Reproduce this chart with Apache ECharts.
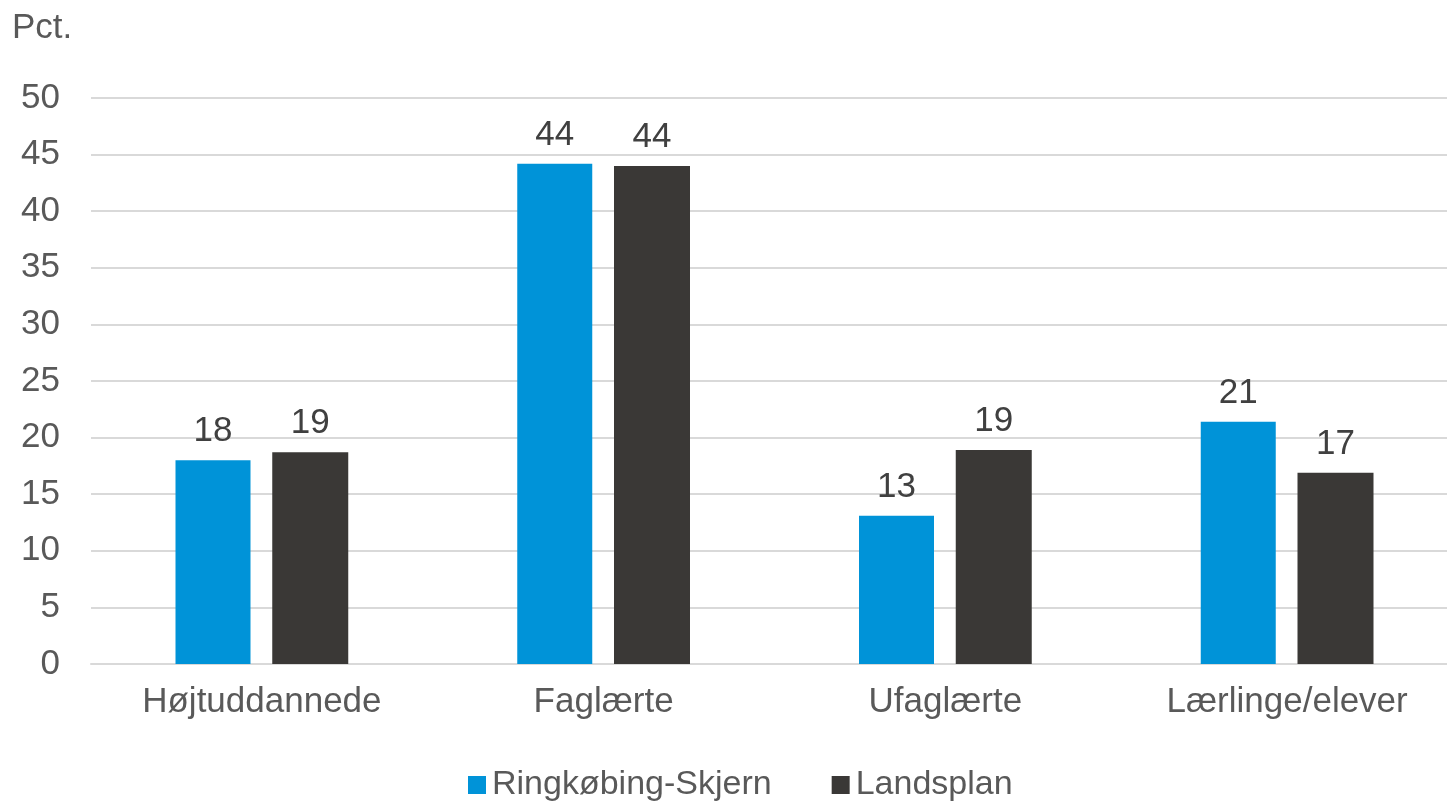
<!DOCTYPE html>
<html><head><meta charset="utf-8">
<script src="https://cdn.jsdelivr.net/npm/echarts@6/dist/echarts.min.js"></script>
<style>html,body{margin:0;padding:0;background:#fff;overflow:hidden}#c{width:1470px;height:801px}</style>
</head><body><div id="c"></div>
<script>
const categories = ['Højtuddannede', 'Faglærte', 'Ufaglærte', 'Lærlinge/elever'];
const seriesNames = ['Ringkøbing-Skjern', 'Landsplan'];
const ringkobing = [18.0, 44.2, 13.1, 21.4];
const landsplan = [18.7, 44.0, 18.9, 16.9];
const yTicks = { min: 0, max: 50, interval: 5 };

const font = 'Liberation Sans, Arial, sans-serif';
const chart = echarts.init(document.getElementById('c'), null, { renderer: 'canvas' });
const lbl = {
  show: true, position: 'top', distance: 11,
  fontSize: 35, color: '#404040', fontFamily: font,
  formatter: p => Math.round(p.value)
};
chart.setOption({
  animation: false,
  textStyle: { fontFamily: font },
  title: { text: 'Pct.', left: 7, top: 6, textStyle: { fontSize: 35, fontWeight: 'normal', color: '#595959', fontFamily: font } },
  grid: { left: 91, top: 98, width: 1367, bottom: 137 },
  legend: {
    bottom: -6, left: 463, itemWidth: 18, itemHeight: 18, itemGap: 60,
    icon: 'rect',
    textStyle: { fontSize: 34, color: '#595959', fontFamily: font, padding: [0, 0, 0, 1] },
    data: seriesNames
  },
  xAxis: {
    type: 'category', data: categories,
    axisLine: { show: true, lineStyle: { color: '#d9d9d9', width: 2 } },
    axisTick: { show: false },
    axisLabel: { fontSize: 35, color: '#595959', margin: 21, fontFamily: font }
  },
  yAxis: {
    type: 'value', min: yTicks.min, max: yTicks.max, interval: yTicks.interval,
    axisLine: { show: false }, axisTick: { show: false },
    splitLine: { lineStyle: { color: '#d9d9d9', width: 2 } },
    axisLabel: { fontSize: 35, color: '#595959', margin: 31, fontFamily: font }
  },
  series: [
    { name: seriesNames[0], type: 'bar', data: ringkobing, barWidth: 75, barGap: '29%', itemStyle: { color: '#0093D8' }, label: lbl },
    { name: seriesNames[1], type: 'bar', data: landsplan, barWidth: 76, barGap: '29%', itemStyle: { color: '#3A3836' }, label: lbl }
  ]
});
</script></body></html>
